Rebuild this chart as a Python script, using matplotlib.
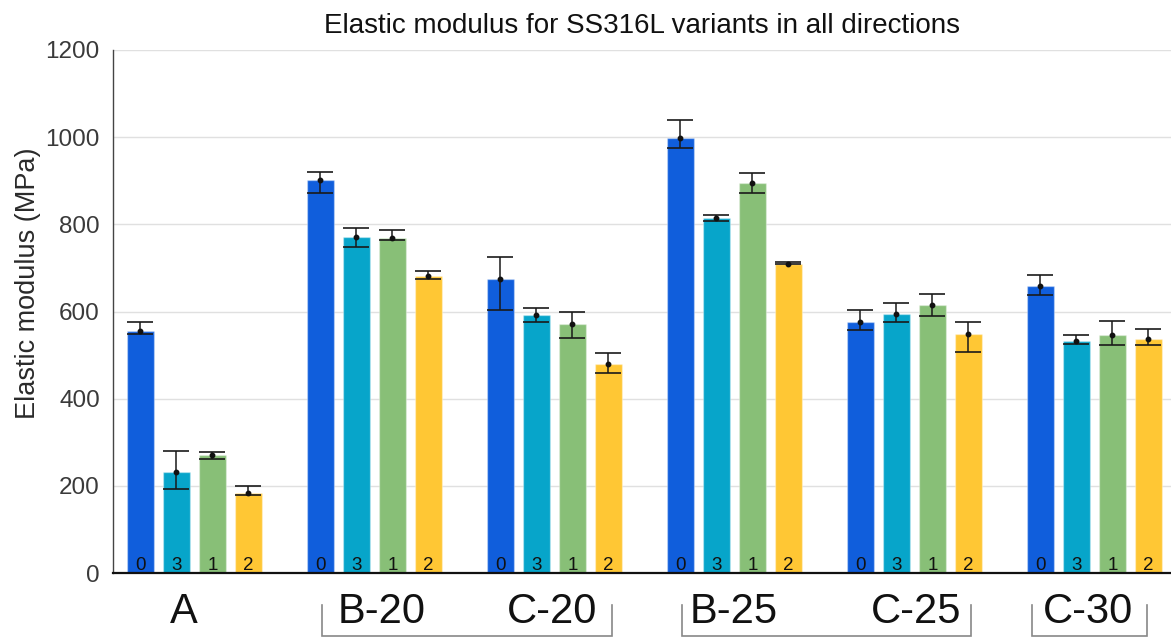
import matplotlib
matplotlib.use("Agg")
import matplotlib.pyplot as plt
import matplotlib.transforms as mtransforms
import numpy as np

plt.rcParams['font.family'] = ['Liberation Sans', 'DejaVu Sans']

# Variants and the build directions tested for each (bar order inside a group)
variants = ["A", "B-20", "C-20", "B-25", "C-25", "C-30"]
directions = ["0", "3", "1", "2"]
direction_colors = ["#105edc", "#07a5ca", "#88bf77", "#ffc734"]

# Mean elastic modulus (MPa), one row per variant, columns follow `directions`
modulus_mean = [
    [556, 231, 270, 184],
    [901, 771, 769, 682],
    [674, 591, 572, 479],
    [998, 814, 894, 710],
    [575, 595, 614, 549],
    [659, 533, 546, 537],
]
# Upper and lower ends of the error bars (MPa)
modulus_high = [
    [576, 280, 277, 199],
    [921, 792, 786, 693],
    [724, 608, 598, 504],
    [1040, 821, 918, 714],
    [604, 619, 641, 576],
    [683, 547, 578, 559],
]
modulus_low = [
    [548, 193, 261, 180],
    [873, 749, 763, 674],
    [604, 575, 540, 460],
    [974, 807, 873, 708],
    [557, 576, 590, 507],
    [637, 525, 522, 522],
]

# Label positions under each group and the brackets joining paired variants
variant_label_x = [1.20, 6.69, 11.43, 16.49, 21.56, 26.32]
bracket_spans = [(5.05, 13.10), (15.05, 23.07), (24.77, 27.96)]

W, H = 1171, 637
fig = plt.figure(figsize=(W / 100, H / 100), dpi=100)
ax = fig.add_axes([113 / W, (H - 573) / H, (W - 113) / W, (573 - 50) / H])

slot = 5  # four bars plus one empty slot per group
for gi, name in enumerate(variants):
    for di, d in enumerate(directions):
        x = gi * slot + di
        m = modulus_mean[gi][di]
        hi = modulus_high[gi][di]
        lo = modulus_low[gi][di]
        ax.bar(x, m, width=0.75, color=direction_colors[di],
               edgecolor=(1, 1, 1, 0.35), linewidth=1.0, zorder=2)
        ax.errorbar(x, m, yerr=[[m - lo], [hi - m]], fmt='o', color='#111111',
                    markersize=3.2, elinewidth=1.1, capsize=9.7, capthick=1.2,
                    ecolor='#1a1a1a', zorder=4)
        ax.text(x, 7, d, ha='center', va='baseline', fontsize=13.5,
                color='#111111', zorder=5)

ax.set_xlim(-0.76, 28.63)
ax.set_ylim(0, 1200)
ax.set_yticks(np.arange(0, 1201, 200))
ax.set_xticks([])
ax.grid(axis='y', color='#e0e0e0', linewidth=1.0, zorder=0)
ax.set_axisbelow(True)

for side in ['top', 'right']:
    ax.spines[side].set_visible(False)
ax.spines['left'].set_color('#444444')
ax.spines['left'].set_linewidth(1.0)
ax.spines['bottom'].set_color('#111111')
ax.spines['bottom'].set_linewidth(1.6)
ax.spines['bottom'].set_zorder(6)

ax.tick_params(axis='y', length=0, pad=9.5, labelsize=17.5, labelcolor='#3a3a3a')

ax.set_ylabel("Elastic modulus (MPa)", fontsize=19.5, color='#2a2a2a')
ax.yaxis.set_label_coords(-0.068, 0.554)

fig.text(642 / W, 1 - 33 / H, "Elastic modulus for SS316L variants in all directions",
         ha='center', va='baseline', fontsize=20, color='#111111')

# Variant names below the axis
trans = mtransforms.blended_transform_factory(ax.transData, fig.transFigure)
for name, lx in zip(variants, variant_label_x):
    ax.text(lx, 1 - 623 / H, name, transform=trans, ha='center', va='baseline',
            fontsize=30, color='#111111', clip_on=False)

# Brackets grouping variants
y_top, y_bot = 1 - 605 / H, 1 - 636 / H
for x0, x1 in bracket_spans:
    ax.plot([x0, x0, x1, x1], [y_top, y_bot, y_bot, y_top], transform=trans,
            color='#888888', linewidth=1.2, clip_on=False, solid_joinstyle='miter')

fig.savefig("out.png", dpi=100)
